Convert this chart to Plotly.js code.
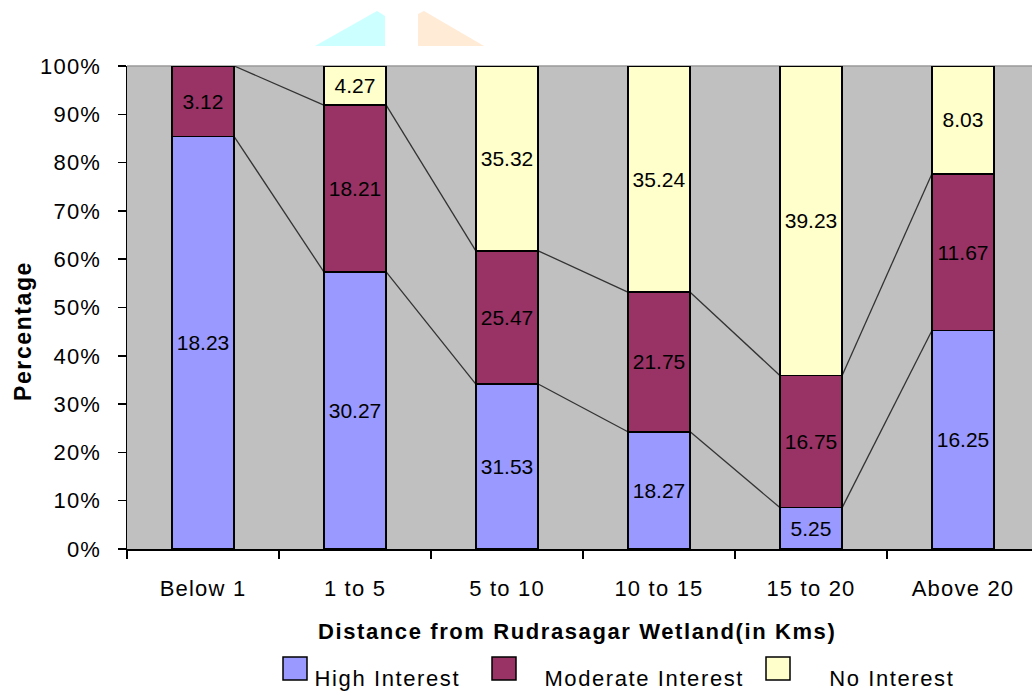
<!DOCTYPE html>
<html>
<head>
<meta charset="utf-8">
<script src="https://cdn.plot.ly/plotly-3.0.1.min.js"></script>
<style>
  html, body { margin: 0; padding: 0; background: #ffffff; }
  #chart { width: 1032px; height: 692px; }
  /* slightly open letter spacing for the chart's text */
  #chart .xtick text, #chart .ytick text { letter-spacing: 1.2px; }
  #chart .annotation-text { letter-spacing: 1.6px; }
</style>
</head>
<body>
<div id="chart"></div>
<script>
// Distance bands from the wetland
const categories = ['Below 1', '1 to 5', '5 to 10', '10 to 15', '15 to 20', 'Above 20'];

// Respondent values per interest level (stacked and normalised to 100%)
const highInterest     = [18.23, 30.27, 31.53, 18.27, 5.25, 16.25];
const moderateInterest = [3.12, 18.21, 25.47, 21.75, 16.75, 11.67];
const noInterest       = [0, 4.27, 35.32, 35.24, 39.23, 8.03];

const seriesNames  = ['High Interest', 'Moderate Interest', 'No Interest'];
const seriesColors = ['#9999FF', '#993366', '#FFFFCC'];
const seriesValues = [highInterest, moderateInterest, noInterest];

const FONT = 'Liberation Sans, Arial, sans-serif';
const BAR_WIDTH = 0.41;

// plot-area geometry in pixels (used for legend / decoration placement)
const M = { l: 127, r: 0, t: 66, b: 143 };
const W = 1032, H = 692;
const PW = W - M.l - M.r, PH = H - M.t - M.b;
const px = x => (x - M.l) / PW;
const py = y => (H - M.b - y) / PH;

const traces = seriesValues.map((vals, k) => ({
  type: 'bar',
  name: seriesNames[k],
  x: categories,
  y: vals,
  width: BAR_WIDTH,
  text: vals.map(v => (v > 0 ? v.toFixed(2) : '')),
  textposition: 'inside',
  insidetextanchor: 'middle',
  constraintext: 'none',
  textangle: 0,
  textfont: { family: FONT, size: 21, color: '#000000' },
  marker: { color: seriesColors[k], line: { color: '#000000', width: 1.5 } },
  hoverinfo: 'skip',
  showlegend: false
}));

// cumulative percentage tops of the lower two series, for the series lines
const totals = categories.map((_, i) => highInterest[i] + moderateInterest[i] + noInterest[i]);
const topHigh = categories.map((_, i) => 100 * highInterest[i] / totals[i]);
const topModerate = categories.map((_, i) => 100 * (highInterest[i] + moderateInterest[i]) / totals[i]);

const shapes = [];
[topHigh, topModerate].forEach(tops => {
  for (let i = 0; i < categories.length - 1; i++) {
    shapes.push({
      type: 'line', xref: 'x', yref: 'y', layer: 'below',
      x0: i + BAR_WIDTH / 2, y0: tops[i],
      x1: i + 1 - BAR_WIDTH / 2, y1: tops[i + 1],
      line: { color: '#333333', width: 1.3 }
    });
  }
});

// plot-area top border
shapes.push({
  type: 'line', xref: 'paper', yref: 'paper', layer: 'below',
  x0: 0, x1: 1, y0: 1, y1: 1,
  line: { color: '#9a9a9a', width: 1.5 }
});

// faint header emblem
function poly(points) {
  return 'M ' + points.map(p => px(p[0]) + ',' + py(p[1])).join(' L ') + ' Z';
}
shapes.push({
  type: 'path', xref: 'paper', yref: 'paper',
  path: poly([[315, 46], [377, 11], [385, 16], [385, 46]]),
  fillcolor: '#CCFFFF', line: { width: 0 }
});
shapes.push({
  type: 'path', xref: 'paper', yref: 'paper',
  path: poly([[418, 46], [418, 14], [424, 11], [484, 46]]),
  fillcolor: '#FFEBD6', line: { width: 0 }
});

// legend keys
const legendBoxX = [283, 492, 766];
const legendTextX = [323, 556, 836];
const annotations = [];
seriesNames.forEach((name, k) => {
  shapes.push({
    type: 'rect', xref: 'paper', yref: 'paper',
    x0: px(legendBoxX[k]), x1: px(legendBoxX[k] + 24),
    y0: py(657), y1: py(680),
    fillcolor: seriesColors[k], line: { color: '#000000', width: 1.5 }
  });
  annotations.push({
    xref: 'paper', yref: 'paper', x: px(legendTextX[k]), y: py(678),
    xanchor: 'left', yanchor: 'middle', showarrow: false,
    text: name, font: { family: FONT, size: 22, color: '#000000' }
  });
});

// axis titles
annotations.push({
  xref: 'paper', yref: 'paper', x: px(23), y: py(331),
  xanchor: 'center', yanchor: 'middle', showarrow: false, textangle: -90,
  text: '<b>Percentage</b>', font: { family: FONT, size: 23, color: '#000000' }
});
annotations.push({
  xref: 'paper', yref: 'paper', x: px(577), y: py(631),
  xanchor: 'center', yanchor: 'middle', showarrow: false,
  text: '<b>Distance from Rudrasagar Wetland(in Kms)</b>',
  font: { family: FONT, size: 22, color: '#000000' }
});

const layout = {
  width: W, height: H,
  margin: M,
  paper_bgcolor: '#ffffff',
  plot_bgcolor: '#C0C0C0',
  barmode: 'stack',
  barnorm: 'percent',
  showlegend: false,
  font: { family: FONT, color: '#000000' },
  xaxis: {
    type: 'category',
    range: [-0.5, -0.5 + PW / 152],
    tickson: 'boundaries',
    ticks: 'outside', ticklen: 8, tickwidth: 1.5, tickcolor: '#000000',
    showline: true, linecolor: '#000000', linewidth: 1.5,
    showgrid: false, zeroline: false,
    ticklabelstandoff: 19,
    tickfont: { family: FONT, size: 22, color: '#000000' },
    fixedrange: true
  },
  yaxis: {
    range: [0, 100],
    tickmode: 'linear', tick0: 0, dtick: 10,
    ticksuffix: '%',
    ticks: 'outside', ticklen: 8, tickwidth: 1.5, tickcolor: '#000000',
    showline: true, linecolor: '#000000', linewidth: 1.5,
    showgrid: false, zeroline: false,
    ticklabelstandoff: 12,
    tickfont: { family: FONT, size: 22, color: '#000000' },
    fixedrange: true
  },
  shapes: shapes,
  annotations: annotations
};

Plotly.newPlot('chart', traces, layout, { displayModeBar: false, staticPlot: true });
</script>
</body>
</html>
